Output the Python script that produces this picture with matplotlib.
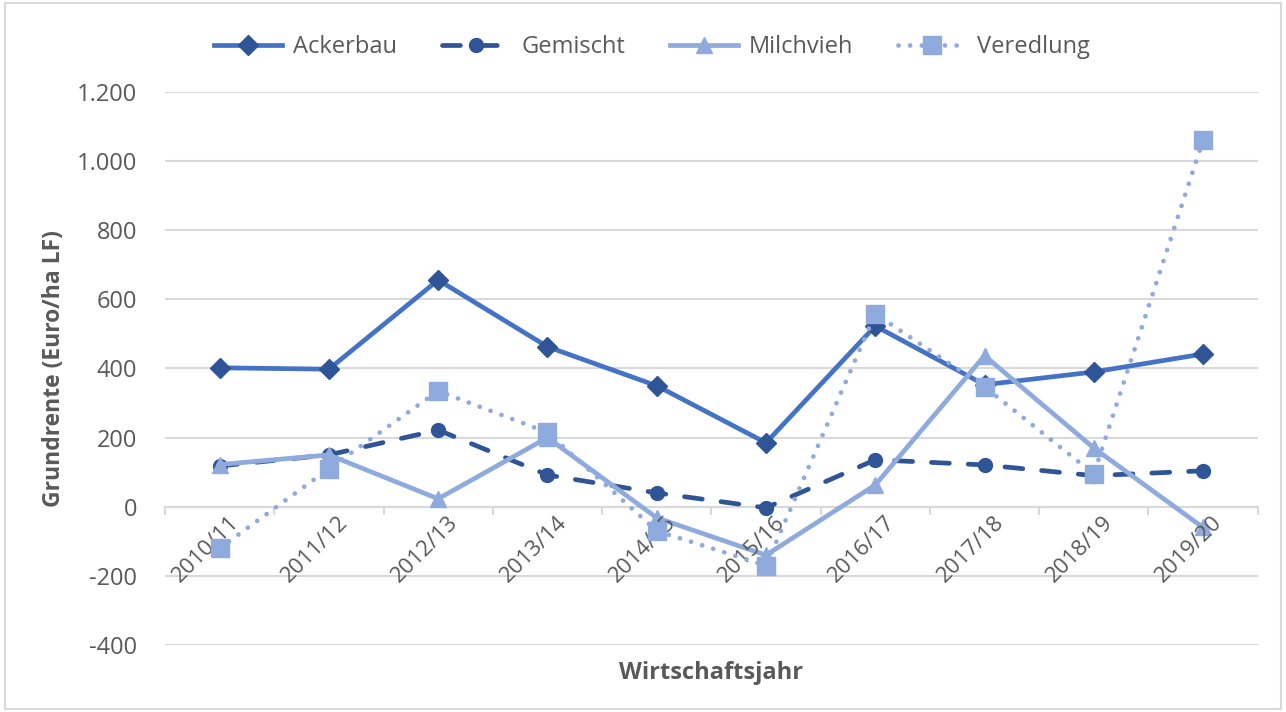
import matplotlib.pyplot as plt
from matplotlib.ticker import FuncFormatter, MultipleLocator
from matplotlib.patches import Rectangle

plt.rcParams['font.family'] = ['Open Sans', 'DejaVu Sans']

jahre = ['2010/11', '2011/12', '2012/13', '2013/14', '2014/15',
         '2015/16', '2016/17', '2017/18', '2018/19', '2019/20']
ackerbau = [402, 398, 656, 463, 350, 185, 523, 353, 390, 442]
gemischt = [118, 150, 222, 92, 40, -3, 136, 121, 90, 104]
milchvieh = [122, 150, 23, 200, -32, -140, 63, 437, 170, -60]
veredlung = [-120, 110, 335, 215, -70, -170, 558, 347, 95, 1061]

grey = '#595959'
grid = '#D9D9D9'

fig = plt.figure(figsize=(12.86, 7.12), dpi=100)
ax = fig.add_axes([0.1283, 0.0941, 0.8497, 0.7767])

x = list(range(len(jahre)))

ax.plot(x, ackerbau, color='#4472C4', lw=3.4, marker='D', ms=10,
        mfc='#2F5597', mec='#2F5597', label='Ackerbau', zorder=3)
ax.plot(x, gemischt, color='#2F5597', lw=3.4, dashes=(3.8, 4), dash_capstyle='round',
        marker='o', ms=10, mfc='#2F5597', mec='#2F5597', label='Gemischt', zorder=3)
ax.plot(x, milchvieh, color='#8FAADC', lw=3.4, marker='^', ms=12,
        mfc='#8FAADC', mec='#8FAADC', label='Milchvieh', zorder=3)
ax.plot(x, veredlung, color='#8FAADC', lw=3.4, ls=(0, (0.01, 2.45)),
        dash_capstyle='round', marker='s', ms=13,
        mfc='#8FAADC', mec='#8FAADC', label='Veredlung', zorder=4)

ax.set_xlim(-0.5, len(jahre) - 0.5)
ax.set_ylim(-400, 1200)
ax.yaxis.set_major_locator(MultipleLocator(200))
ax.yaxis.set_major_formatter(FuncFormatter(lambda v, p: f'{int(v):,}'.replace(',', '.')))
ax.grid(axis='y', color=grid, lw=1.5)
ax.set_axisbelow(True)
for s in ax.spines.values():
    s.set_visible(False)

# Kategorienachse bei 0 mit Teilstrichen zwischen den Jahren
ax.axhline(0, color=grid, lw=1.5, zorder=1)
for b in [i - 0.5 for i in range(len(jahre) + 1)]:
    ax.plot([b, b], [0, -22], color=grid, lw=1.5, zorder=1, clip_on=False)

ax.set_xticks(x)
ax.set_xticklabels([])
ax.tick_params(axis='x', length=0)
ax.tick_params(axis='y', length=0, labelsize=17, colors=grey, pad=20)
for i, j in enumerate(jahre):
    ax.text(i + 0.08, -15, j, rotation=45, ha='right', va='top',
            rotation_mode='anchor', fontsize=16, color=grey)

ax.set_ylabel('Grundrente (Euro/ha LF)', fontsize=16.5, fontweight='bold',
              color=grey, labelpad=8)
ax.set_xlabel('Wirtschaftsjahr', fontsize=17, fontweight='bold', color=grey,
              labelpad=8)

leg = fig.legend(loc='center', bbox_to_anchor=(0.507, 0.934), ncol=4, frameon=False,
                 fontsize=17, handlelength=2.9, columnspacing=1.9, handletextpad=0.45)
for t in leg.get_texts():
    t.set_color(grey)

fig.patches.append(Rectangle((0.004, 0.004), 0.992, 0.992, transform=fig.transFigure,
                             fill=False, ec=grid, lw=1.5))

fig.savefig('out.png', dpi=100)
